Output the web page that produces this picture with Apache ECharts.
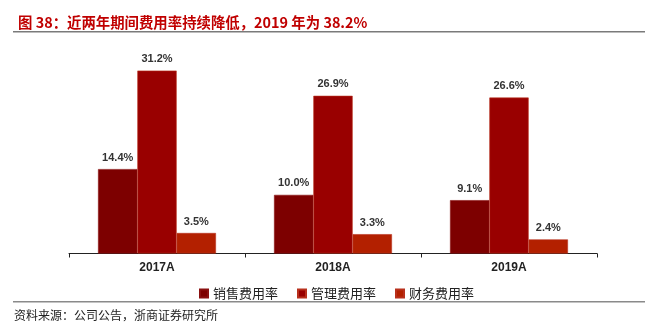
<!DOCTYPE html>
<html><head><meta charset="utf-8">
<script src="https://cdn.jsdelivr.net/npm/echarts@6/dist/echarts.min.js"></script>
<style>html,body{margin:0;padding:0;background:#fff}#c{width:645px;height:329px}</style>
</head><body><div id="c"></div>
<script>
const categories = ['2017A', '2018A', '2019A'];
const seriesNames = ['销售费用率', '管理费用率', '财务费用率'];
const salesRate = [14.4, 10.0, 9.1];
const mgmtRate = [31.2, 26.9, 26.6];
const finRate = [3.5, 3.3, 2.4];
const colors = ['#7d0000', '#990000', '#b32000'];

const chart = echarts.init(document.getElementById('c'));
const font = '"Liberation Sans", Arial, sans-serif';
const mk = (name, data, i) => ({
  name, type: 'bar', data, barGap: 0, barCategoryGap: '33%',
  itemStyle: { color: colors[i], borderColor: i === 0 ? '#8a1010' : '#b8301c', borderWidth: 0.6 },
  label: { show: true, position: 'top', distance: 6, formatter: p => p.value.toFixed(1) + '%',
    color: '#333', fontSize: 11, fontWeight: 'bold', fontFamily: font }
});
chart.setOption({
  animation: false,
  color: colors,
  title: { text: '图 38：近两年期间费用率持续降低，2019 年为 38.2%', left: 13, top: 10,
    textStyle: { color: '#c00000', fontSize: 14.4, fontWeight: 'bold', fontFamily: '"Noto Sans CJK SC", sans-serif' } },
  grid: { left: 69, right: 48, top: 19, bottom: 75.5 },
  legend: { data: seriesNames, top: 282, left: 194, itemWidth: 8, itemHeight: 8, itemGap: 19,
    icon: 'rect', textStyle: { fontSize: 13, color: '#222', fontFamily: '"Noto Sans CJK SC", sans-serif' } },
  xAxis: { type: 'category', data: categories,
    axisLine: { lineStyle: { color: '#222', width: 1 } },
    axisTick: { show: true, length: 4, lineStyle: { color: '#222' } },
    axisLabel: { color: '#222', fontSize: 12, fontWeight: 'bold', margin: 8, fontFamily: font } },
  yAxis: { type: 'value', min: 0, max: 40, show: false, splitLine: { show: false } },
  series: [mk(seriesNames[0], salesRate, 0), mk(seriesNames[1], mgmtRate, 1), mk(seriesNames[2], finRate, 2)],
  graphic: [
    { type: 'rect', shape: { x: 13, y: 31, width: 632, height: 1.5 }, style: { fill: '#7a7a7a' } },
    { type: 'rect', shape: { x: 13, y: 301, width: 632, height: 1.5 }, style: { fill: '#8a8a8a' } },
    { type: 'text', left: 14, top: 309, style: { text: '资料来源：公司公告，浙商证券研究所', fontSize: 12, fill: '#222',
      fontFamily: '"Noto Sans CJK SC", sans-serif' } }
  ]
});
</script></body></html>
